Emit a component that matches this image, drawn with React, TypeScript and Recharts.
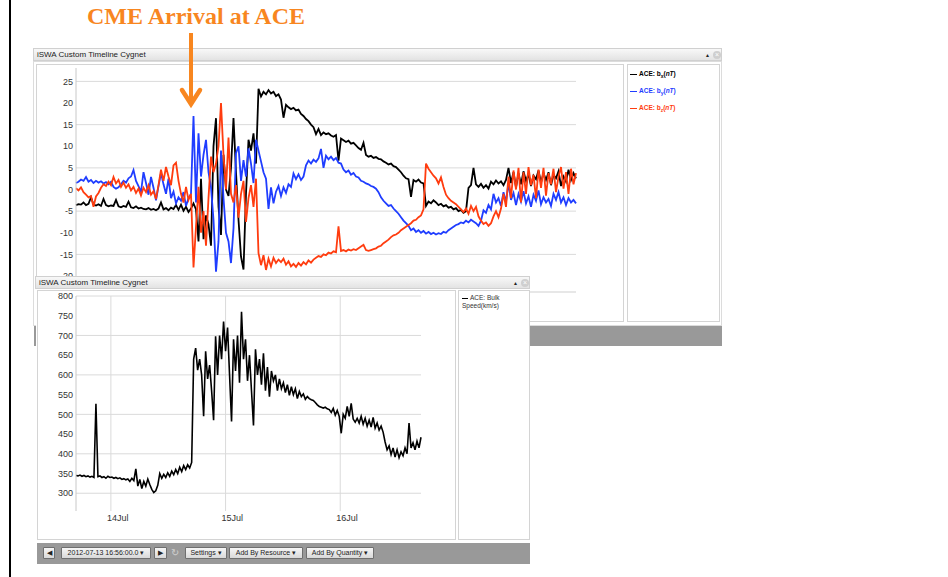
import React from 'react';
import { LineChart, Line, XAxis, YAxis, CartesianGrid } from 'recharts';

// ---------- Top chart: ACE magnetic field components (nT) ----------
const bxValues = [
  -3.6, -3.4, -3.5, -3.0, -3.6, -3.3, -1.8, -3.5, -3.7, -3.4,
  -3.8, -2.2, -3.6, -3.9, -3.7, -3.8, -2.4, -3.9, -4.1, -3.8,
  -4.0, -2.8, -4.1, -4.3, -3.9, -4.4, -4.2, -4.5, -4.6, -4.3,
  -4.7, -4.5, -4.8, -4.4, -3.0, -4.6, -4.3, -4.8, -4.2, -4.5,
  -3.6, -4.7, -3.5, -4.9, -4.0, -5.2, -4.4, -3.2, -4.6, -12.0,
  2.5, -11.5, -6.0, -8.0, -13.0, 10.0, 16.5, -4.0, -10.5, 8.0,
  0.0, -1.5, 5.0, 16.5, 4.0, -7.0, -15.5, -18.5, -1.0, 11.5,
  9.0, 13.0, 6.0, 23.3, 21.5, 22.6, 22.0, 23.0, 22.2, 22.6,
  21.6, 22.0, 20.8, 16.6, 19.6, 19.0, 18.6, 18.9, 18.3, 18.5,
  17.5, 17.0, 16.3, 15.8, 15.0, 14.4, 12.8, 14.0, 12.6, 13.2,
  12.8, 13.0, 12.5, 12.2, 12.6, 6.7, 11.8, 11.4, 11.0, 11.3,
  10.6, 10.8, 10.2, 9.6, 9.2, 10.8, 8.0, 7.6, 7.8, 7.3,
  7.5, 7.1, 7.0, 6.5, 6.2, 5.8, 6.0, 5.4, 5.2, 4.6,
  4.0, 3.2, 2.6, 2.4, -1.7, 2.2, 1.8, 2.3, 1.6, 1.4,
  -3.8, -2.8, -3.2, -2.5, -3.0, -3.6, -3.3, -3.9, -3.6, -4.2,
  -4.0, -4.6, -4.3, -5.0, -4.7, -5.4, -5.0, 0.4, 1.0, 5.0,
  1.2, 0.6, 1.3, 0.4, 1.0, 0.2, 1.8, 1.2, 2.1, 1.4,
  1.9, 1.0, 2.2, 5.0, 1.5, 4.0, 0.5, 3.8, 1.2, 4.2,
  2.0, 3.6, 0.8, 3.2, 2.4, 4.4, 1.6, 3.8, 2.2, 4.0,
  1.0, 3.4, 2.6, 4.2, 0.8, 3.0, 1.8, 4.6, 2.2, 3.8,
  2.6,
];

const byValues = [
  1.5, 1.8, 2.3, 2.0, 2.9, 1.8, 2.2, 1.5, 2.0, 1.6,
  1.9, 1.4, 1.7, 1.2, 1.8, 0.6, 0.2, 0.5, 1.2, 2.0,
  1.6, 2.6, 3.0, 4.5, 2.0, 0.8, -0.6, 4.0, 1.5, -1.2,
  2.9, 0.4, -2.5, 0.8, 3.8, 1.2, -1.0, 2.5, -2.0, -0.5,
  -3.2, -1.8, -2.6, -0.6, -3.8, -2.0, -1.0, 17.0, -3.0, 13.0,
  3.0, 8.0, 11.5, 4.0, 0.5, -7.0, -19.0, -12.0, 9.0, -2.0,
  -10.0, -12.0, -17.0, -9.0, 8.4, 10.0, 2.0, 6.8, 3.0, 9.5,
  6.0, 1.5, 11.5, 9.0, 6.5, 4.0, 2.5, -4.5, 0.5, -3.2,
  -0.5, 0.8, -1.5, 0.5, -0.8, 1.2, 0.6, 3.7, 2.4, 3.5,
  2.2, 3.0, 5.6, 6.7, 6.0, 6.9, 6.4, 7.2, 9.4, 5.0,
  7.8, 7.0, 7.6, 6.8, 7.3, 6.2, 6.0, 4.6, 4.0, 4.4,
  3.4, 3.8, 3.0, 2.8, 2.0, 1.8, 1.4, 1.2, 0.8, 0.6,
  0.2, -0.6, -1.8, -2.6, -3.2, -3.8, -3.6, -4.4, -5.0, -5.6,
  -6.4, -7.2, -7.8, -8.4, -9.4, -9.0, -9.8, -9.4, -10.0, -9.6,
  -10.2, -9.8, -10.3, -10.0, -10.4, -10.1, -10.3, -9.8, -10.0, -9.4,
  -9.0, -8.6, -8.2, -8.0, -7.6, -7.8, -7.2, -7.6, -7.0, -7.4,
  -7.8, -8.4, -7.2, -4.8, -5.4, -3.6, -4.6, -1.0, -3.0, -2.0,
  -3.8, -0.6, -2.8, 1.4, -2.4, -0.8, -3.6, -1.0, -2.8, -0.4,
  -3.2, -1.6, -4.0, -1.2, -2.6, -0.2, -3.4, -1.8, -3.0, -2.2,
  -3.8, -1.0, -2.4, -0.6, -3.0, -1.8, -3.6, -2.0, -3.0, -2.4,
  -3.2,
];

const bzValues = [
  0.3, -0.2, 0.5, -0.6, -1.2, -1.8, -1.5, -4.0, -1.6, -0.8,
  0.4, 1.2, 0.8, 1.8, 1.0, 2.9, 1.4, 2.2, 0.6, 1.6,
  0.4, 1.2, -0.2, 0.6, -0.8, 0.2, -1.4, 0.4, -0.6, 1.0,
  -1.2, -0.4, -2.2, 1.0, 4.6, 2.0, 5.2, 3.0, 1.0, 5.6,
  6.2, 2.0, -1.0, -3.0, 0.6, -2.4, -1.0, -18.0, -8.6, 0.6,
  -10.0, -5.0, -13.0, -2.0, 7.6, 4.0, 6.0, 10.0, 20.0, 8.0,
  0.0, 12.0, -1.0, -3.0, 1.0, -6.5, -1.0, 2.0, -7.5, -2.0,
  1.0, -4.0, 2.5, -14.7, -17.5, -15.2, -18.6, -16.0, -17.8, -15.8,
  -17.0, -16.2, -16.8, -16.0, -17.4, -16.6, -17.8, -17.2, -17.9, -17.0,
  -17.6, -16.8, -17.3, -16.4, -16.9, -16.2, -15.8, -15.4, -15.6, -15.0,
  -15.2, -14.6, -14.8, -14.3, -14.5, -8.5, -14.2, -14.0, -14.3, -13.9,
  -14.1, -13.8, -14.0, -13.6, -13.2, -12.8, -14.0, -14.2, -14.0, -13.8,
  -13.6, -13.2, -13.0, -12.4, -12.0, -11.6, -11.0, -10.6, -10.4, -10.0,
  -9.4, -9.0, -8.6, -8.2, -7.8, -7.2, -7.0, -6.4, -6.0, -4.6,
  6.0, 4.8, 4.0, 3.2, 2.6, 1.4, 2.8, 0.6, -1.2, -2.0,
  -2.6, -3.0, -3.4, -4.0, -4.6, -5.2, -4.4, -5.6, -3.8, -5.0,
  -4.0, -6.2, -7.2, -8.0, -7.6, -8.4, -7.8, -6.2, -5.0, -6.4,
  -4.4, -1.0, -4.0, 3.0, -2.0, 4.4, 0.0, 5.0, -3.0, 4.0,
  -1.0, 5.2, 1.0, 3.4, -2.0, 4.6, 0.4, 5.0, -1.4, 3.8,
  1.2, 4.8, -0.6, 3.0, 5.2, 0.2, 4.0, -1.0, 4.8, 1.2,
  3.8,
];

const topGridTicks = [10.4, 60.4, 110.4, 160.4];
const topYTicks = [-20, -15, -10, -5, 0, 5, 10, 15, 20, 25];

// ---------- Bottom chart: ACE bulk speed (km/s) ----------
const speedValues = [
  345, 344, 346, 343, 345, 342, 344, 341, 343, 340,
  527, 342, 344, 340, 342, 338, 343, 340, 341, 338,
  340, 337, 339, 335, 337, 334, 336, 330, 338, 332,
  362, 318, 335, 312, 330, 318, 336, 322, 310, 302,
  306, 320, 350, 338, 348, 340, 352, 343, 356, 347,
  360, 350, 366, 355, 370, 360, 372, 364, 378, 640,
  668, 612, 640, 600, 495, 660, 590, 625, 560, 485,
  698, 600, 700, 640, 735, 660, 720, 600, 482, 690,
  610, 700, 580, 760, 640, 690, 585, 650, 560, 472,
  665, 600, 640, 575, 655, 560, 620, 545, 610, 585,
  600, 560, 590, 565, 580, 555, 575, 548, 570, 550,
  565, 540, 558, 545, 552, 538, 545, 540, 537, 535,
  530, 524, 520, 518, 516, 518, 514, 512, 505, 515,
  498, 510, 495, 452, 500, 490, 520, 495, 528, 488,
  480, 490, 478, 495, 475, 490, 470, 485, 468, 492,
  465, 478, 460, 470, 455, 430, 410, 420, 398, 415,
  392, 410, 390, 405, 395, 415, 400, 478, 415, 428,
  410, 432, 415, 442,
];

const dayTicks = [17.5, 75, 132.5];
const dayLabels = ['14Jul', '15Jul', '16Jul'];
const speedYTicks = [300, 350, 400, 450, 500, 550, 600, 650, 700, 750, 800];

const topLegend = [
  { sub: 'x', color: '#000000' },
  { sub: 'y', color: '#1f3dff' },
  { sub: 'z', color: '#ff3c0f' },
];

const topData = bxValues.map((v, i) => ({ t: i, bx: v, by: byValues[i], bz: bzValues[i] }));
const speedData = speedValues.map((v, i) => ({ t: i, speed: v }));

const UI = '"Liberation Sans", Arial, sans-serif';
const GRID = '#dadada';
const ORANGE = '#f8861f';

const abs = (left: number, top: number, width: number, height: number, extra: React.CSSProperties = {}): React.CSSProperties => ({
  position: 'absolute', left, top, width, height, boxSizing: 'border-box', ...extra,
});

const DayTick = (props: any) => {
  const { x, y, payload } = props;
  const idx = dayTicks.indexOf(payload.value);
  return (
    <text x={x - 4} y={y} dy="0.71em" fontSize={9} fill="#333" fontFamily={UI} textAnchor="start">
      {idx >= 0 ? dayLabels[idx] : ''}
    </text>
  );
};

const Header = ({ left, top, width }: { left: number; top: number; width: number }) => (
  <div style={abs(left, top, width, 13, {
    background: 'linear-gradient(#f8f8f8, #e3e3e3)', border: '1px solid #d0d0d0',
    fontFamily: UI, fontSize: 8, lineHeight: '11px', color: '#222', paddingLeft: 3, whiteSpace: 'nowrap',
  })}>
    iSWA Custom Timeline Cygnet
    <div style={abs(width - 18, 3, 6, 6, { fontSize: 5, lineHeight: '6px', color: '#222' })}>▲</div>
    <div style={abs(width - 10, 2, 8, 8, { borderRadius: 4, background: '#cfcfcf', color: '#fff', fontSize: 7, lineHeight: '8px', textAlign: 'center' })}>×</div>
  </div>
);

const Btn = ({ left, width, children }: { left: number; width: number; children: React.ReactNode }) => (
  <div style={abs(left, 547, width, 12, {
    background: 'linear-gradient(#f6f6f6, #d9d9d9)', border: '1px solid #6f6f6f', borderRadius: 1,
    fontFamily: UI, fontSize: 7, lineHeight: '10px', color: '#222', textAlign: 'center', whiteSpace: 'nowrap', overflow: 'hidden',
  })}>{children}</div>
);

export default function App() {
  return (
    <div style={{ position: 'absolute', left: 0, top: 0, width: 948, height: 577, background: '#fff', overflow: 'hidden' }}>
      {/* left page border */}
      <div style={abs(9, 0, 2, 577, { background: '#000' })} />

      {/* ---------------- Top panel ---------------- */}
      <Header left={33} top={48} width={689} />
      <div style={abs(33, 61, 689, 265, { background: '#fff', border: '1px solid #dcdcdc' })} />
      <div style={abs(36, 64, 588, 258, { border: '1px solid #d4d4d4' })} />
      <div style={abs(627, 64, 93, 258, { border: '1px solid #d4d4d4' })}>
        {topLegend.map((l, i) => (
          <div key={l.sub} style={abs(2, 4 + i * 17, 90, 10, { fontFamily: UI, fontSize: 6.5, fontWeight: 'bold', color: l.color, lineHeight: '10px', whiteSpace: 'nowrap' })}>
            <span style={{ display: 'inline-block', width: 7, height: 1.5, background: l.color, verticalAlign: 'middle', marginRight: 2 }} />
            ACE: b<sub style={{ fontSize: 5 }}>{l.sub}</sub>(<i>nT</i>)
          </div>
        ))}
      </div>
      <div style={abs(34, 326, 688, 20, { background: '#999' })} />

      <div style={abs(37, 64, 587, 258)}>
        <LineChart width={587} height={258} data={topData} margin={{ top: 4, right: 48, bottom: 0, left: 0 }}>
          <CartesianGrid stroke={GRID} strokeWidth={1} syncWithTicks />
          <XAxis dataKey="t" type="number" domain={[0, 200]} ticks={topGridTicks} tick={false} tickLine={false}
            axisLine={{ stroke: '#cfcfcf' }} height={30} />
          <YAxis type="number" domain={[-23.7, 28.1]} ticks={topYTicks} allowDataOverflow width={39}
            tickLine={false} tickSize={0} tickMargin={3} axisLine={{ stroke: '#c8c8c8' }}
            tick={{ fontSize: 9, fill: '#333', fontFamily: UI }} />
          <Line type="linear" dataKey="bx" stroke={topLegend[0].color} strokeWidth={1.8} dot={false} isAnimationActive={false} />
          <Line type="linear" dataKey="by" stroke={topLegend[1].color} strokeWidth={1.8} dot={false} isAnimationActive={false} />
          <Line type="linear" dataKey="bz" stroke={topLegend[2].color} strokeWidth={1.8} dot={false} isAnimationActive={false} />
        </LineChart>
      </div>

      {/* ---------------- Bottom panel ---------------- */}
      <Header left={35} top={276} width={495} />
      <div style={abs(36, 289, 494, 254, { background: '#fff' })} />
      <div style={abs(37, 290, 419, 250, { border: '1px solid #d4d4d4' })} />
      <div style={abs(458, 290, 72, 250, { border: '1px solid #d4d4d4' })}>
        <div style={abs(3, 3, 68, 20, { fontFamily: UI, fontSize: 6.5, color: '#333', lineHeight: '8px' })}>
          <span style={{ display: 'inline-block', width: 6, height: 1.5, background: '#000', verticalAlign: 'middle', marginRight: 2 }} />
          ACE: Bulk<br />Speed(km/s)
        </div>
      </div>
      <div style={abs(37, 290, 419, 250)}>
        <LineChart width={419} height={250} data={speedData} margin={{ top: 6, right: 35, bottom: 0, left: 0 }}>
          <CartesianGrid stroke={GRID} strokeWidth={1} syncWithTicks />
          <XAxis dataKey="t" type="number" domain={[0, 173]} ticks={dayTicks} tick={<DayTick />} tickLine={false}
            tickSize={0} tickMargin={4} axisLine={false} height={29} />
          <YAxis type="number" domain={[255, 800]} ticks={speedYTicks} allowDataOverflow width={39}
            tickLine={false} tickSize={0} tickMargin={3} axisLine={{ stroke: '#c8c8c8' }}
            tick={{ fontSize: 9, fill: '#333', fontFamily: UI }} />
          <Line type="linear" dataKey="speed" stroke="#000" strokeWidth={1.6} dot={false} isAnimationActive={false} />
        </LineChart>
      </div>

      {/* bottom toolbar */}
      <div style={abs(37, 543, 493, 21, { background: '#999' })} />
      <Btn left={43} width={12}><span style={{ fontSize: 7 }}>◀</span></Btn>
      <Btn left={61} width={90}>2012-07-13 16:56:00.0 ▾</Btn>
      <Btn left={154} width={13}><span style={{ fontSize: 7 }}>▶</span></Btn>
      <div style={abs(171, 546, 11, 13, { fontFamily: '"DejaVu Sans"', fontSize: 10, lineHeight: '13px', color: '#cfcfcf' })}>↻</div>
      <Btn left={185} width={42}>Settings ▾</Btn>
      <Btn left={229} width={74}>Add By Resource ▾</Btn>
      <Btn left={306} width={68}>Add By Quantity ▾</Btn>

      {/* ---------------- Title and arrow ---------------- */}
      <svg style={{ position: 'absolute', left: 0, top: 0 }} width={948} height={577}>
        <text x={87} y={24} fontFamily='"Liberation Serif", "Times New Roman", serif' fontWeight="bold" fontSize={24} fill={ORANGE}>
          CME Arrival at ACE
        </text>
        <line x1={191} y1={33} x2={191} y2={103} stroke={ORANGE} strokeWidth={4} />
        <polyline points="182,90 191,104 200,90" fill="none" stroke={ORANGE} strokeWidth={4.5} strokeLinejoin="miter" strokeLinecap="round" />
      </svg>
    </div>
  );
}
